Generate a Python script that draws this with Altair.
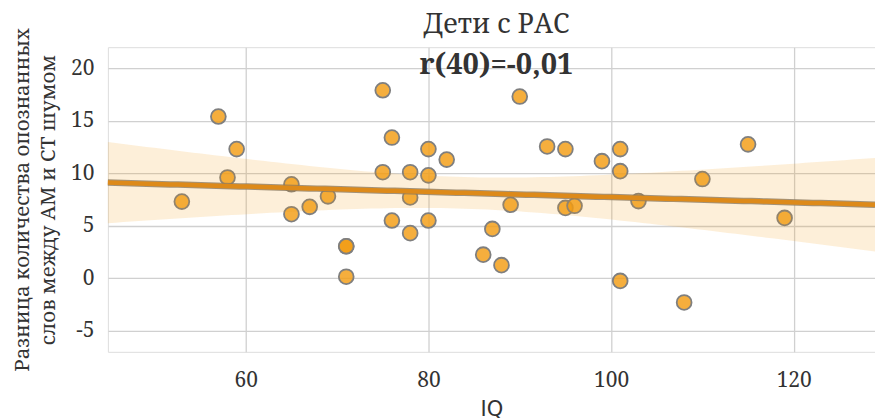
import altair as alt
import numpy as np
import pandas as pd

iq = [53, 57, 58, 59, 65, 65, 67, 69, 71, 71, 71,
      75, 75, 76, 76, 78, 78, 78, 80, 80, 80, 82,
      86, 87, 88, 89, 90, 93, 95, 95, 96,
      99, 101, 101, 101, 103, 108, 110, 115, 119]
diff = [7.3, 15.4, 9.6, 12.3, 8.95, 6.1, 6.8, 7.8, 3.05, 3.05, 0.15,
        17.9, 10.1, 13.4, 5.5, 10.1, 7.7, 4.3, 12.3, 9.8, 5.5, 11.3,
        2.25, 4.7, 1.25, 7.0, 17.3, 12.55, 12.3, 6.7, 6.9,
        11.15, 12.3, 10.2, -0.25, 7.35, -2.3, 9.45, 12.75, 5.75]

title_text = "Дети с РАС"
annot_text = "r(40)=-0,01"
x_title = "IQ"
y_title = ["Разница количества опознанных", "слов между АМ и СТ шумом"]
x_ticks = [60, 80, 100, 120]
y_ticks = [-5, 0, 5, 10, 15, 20]
x_dom = [44.9, 128.9]
y_dom = [-7, 22]

FONT = "Noto Serif, DejaVu Serif, serif"
SANS = "DejaVu Sans, sans-serif"

df = pd.DataFrame({"iq": iq, "diff": diff})

# OLS fit with analytical 95% CI
x = np.array(iq, float)
y = np.array(diff, float)
n = len(x)
b, a = np.polyfit(x, y, 1)
res = y - (a + b * x)
s = np.sqrt(np.sum(res ** 2) / (n - 2))
xm = x.mean()
sxx = np.sum((x - xm) ** 2)
grid = np.linspace(x_dom[0], x_dom[1], 100)
fit = a + b * grid
se = s * np.sqrt(1.0 / n + (grid - xm) ** 2 / sxx)
tcrit = 2.024
fit_df = pd.DataFrame({"iq": grid, "fit": fit, "lo": fit - tcrit * se, "hi": fit + tcrit * se})

xs = alt.Scale(domain=x_dom, nice=False, zero=False)
ys = alt.Scale(domain=y_dom, nice=False, zero=False)

xenc = alt.X("iq:Q", scale=xs, title=x_title,
             axis=alt.Axis(values=x_ticks, grid=True, domain=False, ticks=False,
                           labelFontSize=21, titleFontSize=21, labelPadding=18,
                           titlePadding=8, labelColor="#333333", titleColor="#333333",
                           titleFontWeight="normal",
                           gridColor="#d0d0d0", gridWidth=1.3, labelFont=FONT, titleFont=SANS))
yenc = alt.Y("diff:Q", scale=ys, title=y_title,
             axis=alt.Axis(values=y_ticks, grid=True, domain=False, ticks=False,
                           labelExpr="datum.value",
                           labelFontSize=21, titleFontSize=20.5, labelPadding=14,
                           titlePadding=12, labelColor="#333333", titleColor="#333333",
                           titleFontWeight="normal",
                           gridColor="#d0d0d0", gridWidth=1.3, labelFont=FONT, titleFont=FONT,
                           titleLineHeight=26))

points = alt.Chart(df).mark_point(
    filled=True, shape="circle", size=220, fill="#f39c12", fillOpacity=0.82,
    stroke="#7f7f7f", strokeWidth=1.8, strokeOpacity=1.0
).encode(x=xenc, y=yenc)

band = alt.Chart(fit_df).mark_area(color="#f39c12", opacity=0.16).encode(
    x=alt.X("iq:Q", scale=xs), y=alt.Y("lo:Q", scale=ys), y2="hi:Q")

line_edge = alt.Chart(fit_df).mark_line(color="#8c7a60", strokeWidth=6.5, opacity=0.8).encode(
    x=alt.X("iq:Q", scale=xs), y=alt.Y("fit:Q", scale=ys))
line = alt.Chart(fit_df).mark_line(color="#dd8a1a", strokeWidth=4.5).encode(
    x=alt.X("iq:Q", scale=xs), y=alt.Y("fit:Q", scale=ys))

annot = alt.Chart(pd.DataFrame({"t": [annot_text]})).mark_text(
    font=FONT, fontSize=29, fontWeight="bold", color="#333333", align="center",
    baseline="alphabetic"
).encode(x=alt.value(389), y=alt.value(27), text="t:N")

title = alt.Chart(pd.DataFrame({"t": [title_text]})).mark_text(
    font=FONT, fontSize=27, fontWeight="normal", color="#333333", align="center",
    baseline="alphabetic"
).encode(x=alt.value(389), y=alt.value(-14), text="t:N")

chart = alt.layer(points, band, line_edge, line, annot, title).properties(
    width=768, height=305,
    autosize=alt.AutoSizeParams(type="none"),
    padding={"left": 108, "top": 47, "right": 0, "bottom": 66},
).configure_view(stroke="#d0d0d0", strokeWidth=1.5).configure(background="white")

chart.save("out.html", embed_options={"renderer": "svg", "actions": False})
